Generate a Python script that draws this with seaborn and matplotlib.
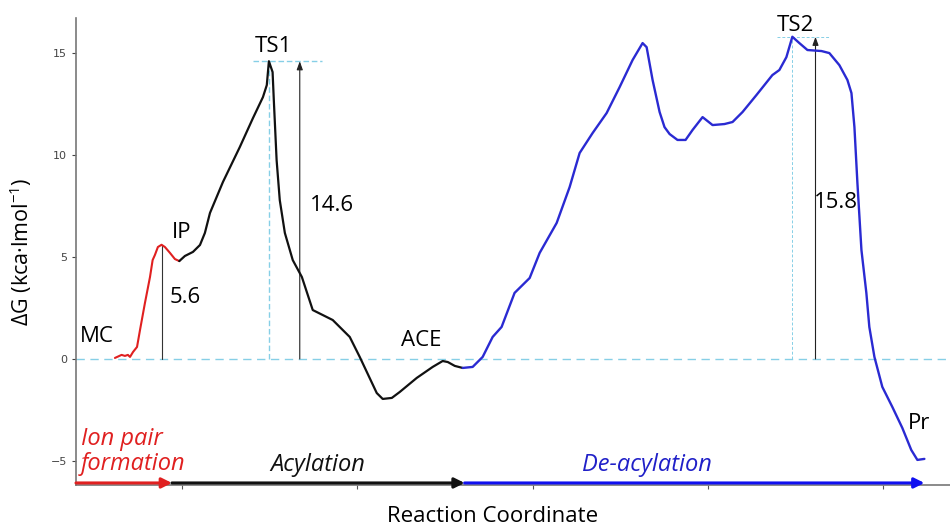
import matplotlib
matplotlib.use("Agg")
import matplotlib.pyplot as plt
import numpy as np
import pandas as pd
import seaborn as sns

# Free-energy profile along the reaction coordinate, split into three phases
ion_pair_x = [61.8, 65.6, 67.5, 69.2, 70.4, 72.1, 74.4, 76.1, 78.9, 81.8, 83.3, 84.6,
              86.3, 88.4, 90.3, 93.2, 96.0, 98.5]
ion_pair_y = [0.05, 0.20, 0.15, 0.20, 0.10, 0.34, 0.59, 1.42, 2.74, 4.02, 4.85, 5.10,
              5.49, 5.60, 5.49, 5.20, 4.90, 4.80]

acylation_x = [98.5, 101.7, 106.3, 110.3, 113.1, 116.0, 123.4, 133.0, 140.5, 146.2, 148.4,
               149.6, 151.7, 152.4, 154.0, 155.8, 158.7, 163.2, 168.4, 174.6, 186.0,
               195.7, 201.4, 211.1, 214.5, 219.7, 224.2, 233.9, 243.0, 248.7, 251.6,
               255.6, 260.1]
acylation_y = [4.80, 5.05, 5.25, 5.59, 6.18, 7.16, 8.68, 10.39, 11.81, 12.84, 13.43,
               14.60, 14.07, 12.70, 9.75, 7.79, 6.18, 4.85, 4.02, 2.40, 1.91,
               1.08, 0.10, -1.67, -1.96, -1.91, -1.62, -0.93, -0.39, -0.10, -0.15,
               -0.34, -0.44]

deacylation_x = [260.1, 265.8, 271.5, 277.2, 282.3, 289.7, 298.3, 304.0, 313.7, 321.1,
                 326.8, 334.2, 342.2, 349.6, 357.0, 362.7, 365.0, 368.4, 372.4, 375.2,
                 378.1, 382.6, 387.2, 391.2, 396.9, 402.6, 409.4, 414.0, 419.7, 427.6,
                 436.7, 440.7, 444.7, 448.1, 452.1, 456.7, 464.7, 469.2, 474.9, 479.5,
                 481.8, 483.5, 485.2, 487.5, 490.3, 492.0, 494.9, 499.4, 505.1, 510.8,
                 515.9, 519.4, 523.4]
deacylation_y = [-0.44, -0.39, 0.10, 1.08, 1.57, 3.24, 3.97, 5.20, 6.67, 8.43,
                 10.10, 11.08, 12.06, 13.33, 14.66, 15.49, 15.29, 13.68, 12.11, 11.37,
                 11.03, 10.74, 10.74, 11.23, 11.86, 11.47, 11.52, 11.62, 12.11, 12.94,
                 13.92, 14.17, 14.80, 15.80, 15.49, 15.15, 15.10, 15.00, 14.41, 13.68,
                 13.04, 11.37, 8.63, 5.34, 3.24, 1.57, 0.10, -1.37, -2.35, -3.38,
                 -4.46, -4.95, -4.90]

# Barrier annotations: (x position, barrier height)
ip_x, ip_barrier = 88.4, 5.6
ts1_x, ts1_barrier = 149.6, 14.6
ts2_x, ts2_barrier = 448.1, 15.8
ts1_arrow_x = 167.2
ts2_arrow_x = 461.3

# Phase extents along the reaction coordinate
phase_bounds = [39.6, 94.3, 261.2, 523.4]
phase_names = ["Ion pair\nformation", "Acylation", "De-acylation"]

RED = "#e02020"
BLACK = "#111111"
BLUE = "#2a2ad2"
ARROW_BLUE = "#1010f0"
CYAN = "#86cfe6"

sns.set_style("ticks")
plt.rcParams["font.family"] = ["Open Sans", "DejaVu Sans"]
plt.rcParams["mathtext.fontset"] = "custom"
plt.rcParams["mathtext.rm"] = "Open Sans"
plt.rcParams["text.color"] = "black"
plt.rcParams["axes.labelcolor"] = "black"

fig = plt.figure(figsize=(9.5, 5.3), dpi=100)
ax = fig.add_axes([76 / 950, 1 - 485 / 530, 874 / 950, 467 / 530])

frames = [
    pd.DataFrame({"rc": ion_pair_x, "dG": ion_pair_y}),
    pd.DataFrame({"rc": acylation_x, "dG": acylation_y}),
    pd.DataFrame({"rc": deacylation_x, "dG": deacylation_y}),
]
for df, col, lw in zip(frames, [RED, BLACK, BLUE], [1.5, 1.6, 1.7]):
    sns.lineplot(data=df, x="rc", y="dG", sort=False, color=col, lw=lw, ax=ax,
                 estimator=None, zorder=4)

ax.set_xlim(39.6, 538.0)
ax.set_ylim(-6.18, 16.72)

# Zero reference line
ax.axhline(0, color=CYAN, lw=1.0, ls=(0, (6, 4)), zorder=1)

# Transition-state guides
ax.plot([140.5, 179.8], [ts1_barrier, ts1_barrier], color=CYAN, lw=1.0, ls=(0, (4, 2)), zorder=2)
ax.plot([ts1_x, ts1_x], [0, ts1_barrier], color=CYAN, lw=1.0, ls=(0, (4, 2)), zorder=2)
ax.plot([439.6, 469.2], [ts2_barrier, ts2_barrier], color=CYAN, lw=0.7, ls=(0, (3, 2)), zorder=2)
ax.plot([ts2_x, ts2_x], [0, ts2_barrier], color=CYAN, lw=0.7, ls=(0, (3, 2)), zorder=2)

# Barrier heights
ax.plot([ip_x, ip_x], [0, ip_barrier], color="#333333", lw=0.8, zorder=3)
for arr_x, h in [(ts1_arrow_x, ts1_barrier), (ts2_arrow_x, ts2_barrier)]:
    ax.annotate("", xy=(arr_x, h), xytext=(arr_x, 0),
                arrowprops=dict(arrowstyle="-|>,head_length=0.5,head_width=0.18",
                                color="#222222", lw=0.8, shrinkA=0, shrinkB=0), zorder=3)

fs = 16
ax.text(41.9, 1.08, "MC", fontsize=fs, ha="left", va="center")
ax.text(94.3, 6.18, "IP", fontsize=fs, ha="left", va="center")
ax.text(93.1, 2.99, f"{ip_barrier}", fontsize=fs, ha="left", va="center")
ax.text(152.4, 15.3, "TS1", fontsize=fs, ha="center", va="center")
ax.text(172.9, 7.55, f"{ts1_barrier}", fontsize=fs, ha="left", va="center")
ax.text(236.2, 0.93, "ACE", fontsize=fs, ha="center", va="center")
ax.text(449.6, 16.37, "TS2", fontsize=fs, ha="center", va="center")
ax.text(460.2, 7.65, f"{ts2_barrier}", fontsize=fs, ha="left", va="center")
ax.text(513.7, -3.14, "Pr", fontsize=fs, ha="left", va="center")

# Phase arrows along the bottom
arrow_y = -6.08
for (x0, x1), col in zip(zip(phase_bounds[:-1], phase_bounds[1:]), [RED, BLACK, ARROW_BLUE]):
    ax.annotate("", xy=(x1, arrow_y), xytext=(x0, arrow_y),
                arrowprops=dict(arrowstyle="-|>,head_length=0.6,head_width=0.3",
                                color=col, lw=2.2, shrinkA=0, shrinkB=0),
                zorder=5, annotation_clip=False)

pfs = 17
ax.text(42.5, -4.55, phase_names[0], fontsize=pfs, ha="left", va="center",
        style="italic", color=RED, linespacing=1.05)
ax.text(177.5, -5.2, phase_names[1], fontsize=pfs, ha="center", va="center",
        style="italic", color=BLACK)
ax.text(365.2, -5.2, phase_names[2], fontsize=pfs, ha="center", va="center",
        style="italic", color="#2020c8")

# Axes styling
ax.set_xticks([100, 200, 300, 400, 500])
ax.set_xticklabels([])
ax.set_yticks([-5, 0, 5, 10, 15])
ax.tick_params(axis="y", labelsize=8, colors="#444444", length=3, width=0.8,
               labelfontfamily="DejaVu Sans")
ax.tick_params(axis="x", length=3, width=0.8, colors="#555555")
for s in ["top", "right"]:
    ax.spines[s].set_visible(False)
for s in ["left", "bottom"]:
    ax.spines[s].set_color("#777777")
    ax.spines[s].set_linewidth(1.2)

ax.set_ylabel("ΔG (kca·lmol$^{\\mathrm{-1}}$)", fontsize=15.5, labelpad=12)
ax.set_xlabel("Reaction Coordinate", fontsize=16)
ax.xaxis.set_label_coords((493 - 76) / 874, -0.045)

fig.savefig("out.png", dpi=100)
